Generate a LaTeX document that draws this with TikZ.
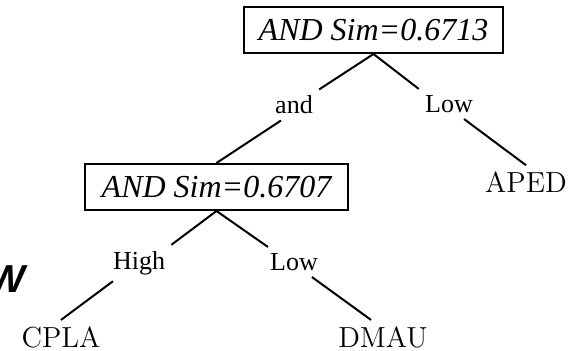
\documentclass[tikz,border=0pt]{standalone}
\usepackage{fontspec}
\usepackage{tikz}
\usetikzlibrary{positioning}
\newfontfamily\timesfont{Liberation Serif}
\newfontfamily\headfont{Liberation Sans}

\begin{document}
\begin{tikzpicture}[
    simbox/.style={draw, line width=1pt, inner sep=0pt, minimum height=23pt,
                   font=\timesfont\itshape\fontsize{16}{19}\selectfont},
    cond/.style={inner sep=3pt, font=\timesfont\fontsize{13}{15}\selectfont},
    leaf/.style={inner sep=3pt, font=\fontsize{14.5}{17}\selectfont},
    edge/.style={line width=1pt},
    on grid]
    \useasboundingbox (0,0) rectangle (289.5pt,-175.5pt);
    \node[simbox, minimum width=129.5pt] (root) at (186.75pt,-15pt) {AND Sim=0.6713};
    \node[cond, below left=37.5pt and 39.75pt of root] (and) {and};
    \node[cond, below right=37pt and 37.75pt of root] (lowA) {Low};
    \node[simbox, minimum width=131.5pt, below left=41pt and 38.75pt of and] (sim) {AND Sim=0.6707};
    \node[leaf, below right=39pt and 38.5pt of lowA] (aped) {APED};
    \node[cond, below left=38pt and 38.75pt of sim] (high) {High};
    \node[cond, below right=37.5pt and 38.75pt of sim] (lowB) {Low};
    \node[leaf, below left=37pt and 39pt of high] (cpla) {CPLA};
    \node[leaf, below right=37.5pt and 44.5pt of lowB] (dmau) {DMAU};
    % cut-off heading at the left margin
    \node[inner sep=0pt, anchor=base east, font=\headfont\bfseries\itshape\fontsize{19.5}{22}\selectfont]
        (head) at (13pt,-146.5pt) {W};
    % branches
    \draw[edge] (root.south) -- (and.north east);
    \draw[edge] (root.south) -- (lowA.north west);
    \draw[edge] (and.-130) -- (sim.north);
    \draw[edge] (lowA.-45) -- (aped.north);
    \draw[edge] (sim.south) -- (high.north east);
    \draw[edge] (sim.south) -- (lowB.150);
    \draw[edge] (high.-145) -- (cpla.north);
    \draw[edge] (lowB.-40) -- (dmau.125);
\end{tikzpicture}
\end{document}
